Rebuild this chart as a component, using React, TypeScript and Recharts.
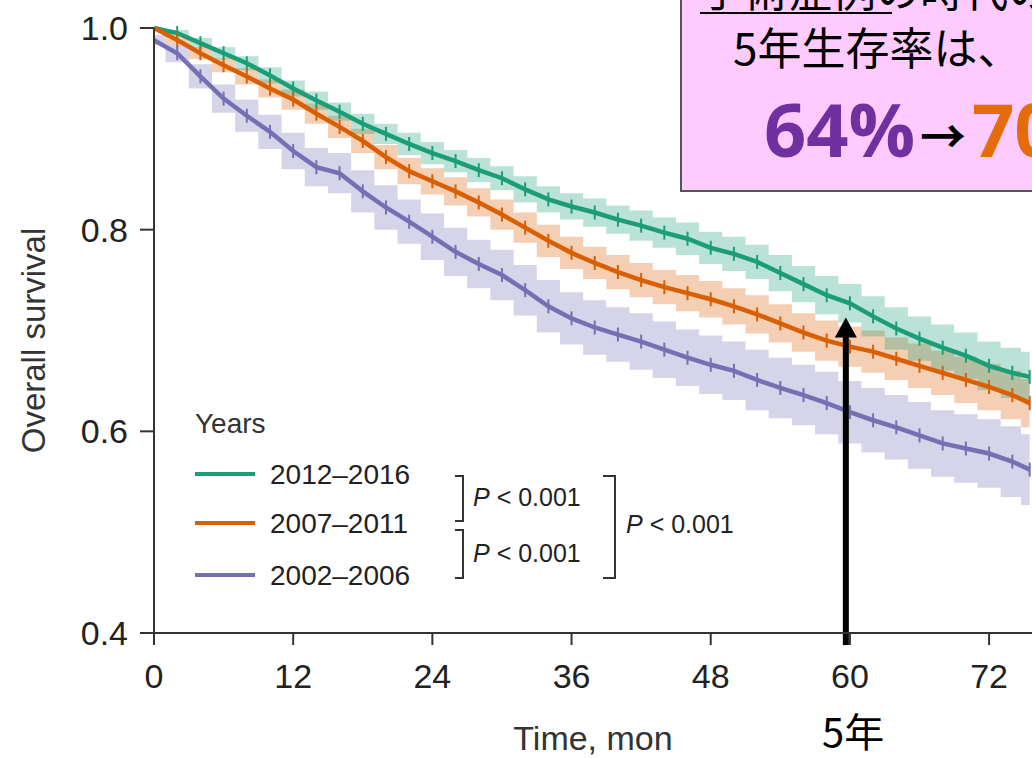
import React from "react";
import {
  ComposedChart,
  Line,
  Area,
  XAxis,
  YAxis,
  Legend,
  ReferenceLine,
} from "recharts";

// time points (months)
const months = [
  0, 2, 4, 6, 8, 10, 12, 14, 16, 18, 20, 22, 24, 26, 28, 30, 32, 34, 36, 38,
  40, 42, 44, 46, 48, 50, 52, 54, 56, 58, 60, 62, 64, 66, 68, 70, 72, 74, 75.5,
];

// survival estimates
const surv2012 = [
  1.0, 0.995, 0.985, 0.975, 0.965, 0.953, 0.94, 0.928, 0.917, 0.905, 0.895,
  0.885, 0.876, 0.868, 0.859, 0.851, 0.84, 0.83, 0.823, 0.817, 0.81, 0.804,
  0.797, 0.791, 0.782, 0.776, 0.768, 0.757, 0.746, 0.735, 0.727, 0.714, 0.702,
  0.692, 0.683, 0.675, 0.665, 0.658, 0.654,
];
const surv2007 = [
  1.0, 0.988, 0.975, 0.963, 0.952, 0.94, 0.929, 0.915, 0.902, 0.888, 0.872,
  0.858, 0.848, 0.838, 0.827, 0.815, 0.802, 0.789, 0.777, 0.767, 0.758, 0.75,
  0.743, 0.737, 0.731, 0.724, 0.716, 0.707, 0.698, 0.69, 0.684, 0.679, 0.672,
  0.665, 0.658, 0.651, 0.644, 0.636, 0.628,
];
const surv2002 = [
  0.988, 0.975, 0.952, 0.93, 0.913, 0.897, 0.878, 0.862, 0.856, 0.838, 0.822,
  0.808, 0.793, 0.778, 0.766, 0.755, 0.74, 0.724, 0.712, 0.703, 0.696, 0.689,
  0.681, 0.673, 0.666, 0.66, 0.651, 0.643, 0.636, 0.628, 0.619, 0.611, 0.604,
  0.596, 0.588, 0.583, 0.578, 0.57, 0.562,
];

// half widths of the confidence bands
const ci2012 = [
  0, 0.003, 0.005, 0.006, 0.007, 0.008, 0.008, 0.009, 0.009, 0.01, 0.01, 0.011,
  0.011, 0.011, 0.012, 0.012, 0.013, 0.013, 0.013, 0.014, 0.014, 0.015, 0.015,
  0.016, 0.016, 0.017, 0.017, 0.018, 0.018, 0.019, 0.019, 0.02, 0.021, 0.022,
  0.023, 0.023, 0.024, 0.025, 0.025,
];
const ci2007 = [
  0, 0.004, 0.006, 0.007, 0.008, 0.009, 0.01, 0.01, 0.011, 0.012, 0.012, 0.013,
  0.013, 0.014, 0.014, 0.015, 0.015, 0.016, 0.016, 0.016, 0.017, 0.017, 0.017,
  0.018, 0.018, 0.018, 0.019, 0.019, 0.019, 0.02, 0.02, 0.021, 0.021, 0.022,
  0.022, 0.023, 0.023, 0.024, 0.024,
];
const ci2002 = [
  0.005, 0.009, 0.012, 0.014, 0.016, 0.017, 0.018, 0.019, 0.02, 0.021, 0.022,
  0.022, 0.023, 0.024, 0.024, 0.025, 0.025, 0.026, 0.026, 0.027, 0.027, 0.028,
  0.028, 0.028, 0.029, 0.029, 0.03, 0.03, 0.03, 0.031, 0.031, 0.032, 0.032,
  0.033, 0.033, 0.034, 0.034, 0.035, 0.035,
];

const seriesNames = ["2012–2016", "2007–2011", "2002–2006"];
const xTicks = [0, 12, 24, 36, 48, 60, 72];
const yTicks = [0.4, 0.6, 0.8, 1.0];

const GREEN = "#1b9e77";
const ORANGE = "#d95f02";
const PURPLE = "#7570b3";

const data = months.map((t, i) => ({
  t,
  g: surv2012[i],
  o: surv2007[i],
  p: surv2002[i],
  gBand: [surv2012[i] - ci2012[i], surv2012[i] + ci2012[i]],
  oBand: [surv2007[i] - ci2007[i], surv2007[i] + ci2007[i]],
  pBand: [surv2002[i] - ci2002[i], surv2002[i] + ci2002[i]],
}));

const tickFont = "'Liberation Sans', Arial, sans-serif";

// censoring marks
const censor = (color: string) => (props: any) => {
  const { cx, cy, index } = props;
  if (index === 0 || cx == null || cy == null) return <g key={`c-${index}`} />;
  return (
    <line
      key={`c-${index}`}
      x1={cx}
      x2={cx}
      y1={cy - 7}
      y2={cy + 7}
      stroke={color}
      strokeWidth={2}
    />
  );
};

const LegendBox = (props: any) => {
  const all = (props.payload || []).filter((p: any) => p.type !== "none");
  const items = seriesNames
    .map((n) => all.find((p: any) => p.value === n))
    .filter(Boolean);
  const rows = [79, 128, 180];
  return (
    <svg width={600} height={200} style={{ overflow: "visible" }}>
      <text x={15} y={28} fontSize={28} fill="#333" dominantBaseline="central" fontFamily={tickFont}>
        Years
      </text>
      {items.map((it: any, i: number) => (
        <g key={it.value}>
          <line x1={15} x2={75} y1={rows[i]} y2={rows[i]} stroke={it.color} strokeWidth={4} />
          <text x={90} y={rows[i]} fontSize={28} fill="#222" dominantBaseline="central" fontFamily={tickFont}>
            {it.value}
          </text>
        </g>
      ))}
      <g stroke="#333" strokeWidth={2} fill="none">
        <polyline points="275,81 283,81 283,126 275,126" />
        <polyline points="275,135 283,135 283,183 275,183" />
        <polyline points="423,81 435,81 435,183 423,183" />
      </g>
      <g fontSize={25} fill="#222" fontFamily={tickFont} dominantBaseline="central">
        <text x={293} y={102}>
          <tspan fontStyle="italic">P</tspan> {"<"} 0.001
        </text>
        <text x={293} y={158}>
          <tspan fontStyle="italic">P</tspan> {"<"} 0.001
        </text>
        <text x={446} y={129}>
          <tspan fontStyle="italic">P</tspan> {"<"} 0.001
        </text>
      </g>
    </svg>
  );
};

const Arrow = (props: any) => {
  const { x1, y1, y2 } = props;
  const top = Math.min(y1, y2);
  const bottom = Math.max(y1, y2);
  return (
    <g>
      <rect x={x1 - 3} y={top + 18} width={6} height={bottom - top - 18} fill="#000" />
      <polygon points={`${x1},${top} ${x1 - 11},${top + 20} ${x1 + 11},${top + 20}`} fill="#000" />
    </g>
  );
};

const YLabel = (props: any) => {
  const vb = props.viewBox || { x: 0, y: 28, height: 605 };
  const cx = vb.x + 33;
  const cy = vb.y + vb.height / 2 + 10;
  return (
    <text
      x={cx}
      y={cy}
      transform={`rotate(-90 ${cx} ${cy})`}
      textAnchor="middle"
      dominantBaseline="central"
      fontSize={33}
      fill="#333"
      fontFamily={tickFont}
    >
      Overall survival
    </text>
  );
};

const App: React.FC = () => {
  return (
    <div
      style={{
        position: "absolute",
        left: 0,
        top: 0,
        width: 1032,
        height: 758,
        overflow: "hidden",
        background: "#fff",
      }}
    >
      <ComposedChart
        width={1032}
        height={758}
        data={data}
        margin={{ top: 28, right: 0, left: 0, bottom: 0 }}
      >
        <XAxis
          dataKey="t"
          type="number"
          domain={[0, 75.7]}
          ticks={xTicks}
          allowDataOverflow
          height={125}
          stroke="#333"
          strokeWidth={2}
          tickSize={12}
          tickMargin={19}
          tick={{ fontSize: 34, fill: "#222", fontFamily: tickFont }}
          label={{
            value: "Time, mon",
            position: "insideBottom",
            offset: 8,
            fontSize: 34,
            fill: "#333",
            fontFamily: tickFont,
          }}
        />
        <YAxis
          type="number"
          domain={[0.4, 1.0]}
          ticks={yTicks}
          width={154}
          stroke="#333"
          strokeWidth={2}
          tickSize={14}
          tickMargin={12}
          tickFormatter={(v: number) => v.toFixed(1)}
          tick={{ fontSize: 34, fill: "#222", fontFamily: tickFont }}
          label={YLabel}
        />
        <Area dataKey="pBand" type="step" stroke="none" fill={PURPLE} fillOpacity={0.3} isAnimationActive={false} legendType="none" />
        <Area dataKey="oBand" type="step" stroke="none" fill={ORANGE} fillOpacity={0.3} isAnimationActive={false} legendType="none" />
        <Area dataKey="gBand" type="step" stroke="none" fill={GREEN} fillOpacity={0.3} isAnimationActive={false} legendType="none" />
        <Line dataKey="g" name={seriesNames[0]} type="linear" stroke={GREEN} strokeWidth={4.5} dot={censor(GREEN)} activeDot={false} isAnimationActive={false} />
        <Line dataKey="o" name={seriesNames[1]} type="linear" stroke={ORANGE} strokeWidth={4.5} dot={censor(ORANGE)} activeDot={false} isAnimationActive={false} />
        <Line dataKey="p" name={seriesNames[2]} type="linear" stroke={PURPLE} strokeWidth={4.5} dot={censor(PURPLE)} activeDot={false} isAnimationActive={false} />
        <ReferenceLine
          segment={[
            { x: 59.65, y: 0.388 },
            { x: 59.65, y: 0.713 },
          ]}
          ifOverflow="visible"
          shape={Arrow}
        />
        <Legend
          layout="vertical"
          align="center"
          verticalAlign="middle"
          content={LegendBox}
          wrapperStyle={{ position: "absolute", left: 180, top: 395, width: 600, height: 200 }}
        />
      </ComposedChart>

      {/* annotation box */}
      <div
        style={{
          position: "absolute",
          left: 680,
          top: -60,
          width: 420,
          height: 248,
          background: "#fdcbfd",
          border: "2px solid #555",
        }}
      />
      <div
        style={{
          position: "absolute",
          left: 700,
          top: -34,
          fontSize: 44,
          lineHeight: "44px",
          fontFamily: "'Noto Sans CJK JP', sans-serif",
          color: "#000",
          whiteSpace: "nowrap",
        }}
      >
        手術症例の時代の
      </div>
      <div style={{ position: "absolute", left: 700, top: 12, width: 192, height: 2, background: "#000" }} />
      <div
        style={{
          position: "absolute",
          left: 733,
          top: 24,
          fontSize: 44,
          lineHeight: "44px",
          fontFamily: "'Noto Sans CJK JP', sans-serif",
          color: "#000",
          whiteSpace: "nowrap",
        }}
      >
        5年生存率は、
      </div>
      <div
        style={{
          position: "absolute",
          left: 764,
          top: 92,
          fontSize: 74,
          lineHeight: "74px",
          fontWeight: 700,
          fontFamily: "'Open Sans', sans-serif",
          color: "#7030a0",
          whiteSpace: "nowrap",
        }}
      >
        64%
      </div>
      <div
        style={{
          position: "absolute",
          left: 920,
          top: 110,
          fontSize: 46,
          lineHeight: "46px",
          fontWeight: 700,
          fontFamily: "'Noto Sans CJK JP', sans-serif",
          color: "#000",
        }}
      >
        →
      </div>
      <div
        style={{
          position: "absolute",
          left: 972,
          top: 92,
          fontSize: 74,
          lineHeight: "74px",
          fontWeight: 700,
          fontFamily: "'Open Sans', sans-serif",
          color: "#e46c0a",
          whiteSpace: "nowrap",
        }}
      >
        70%
      </div>

      <div
        style={{
          position: "absolute",
          left: 822,
          top: 708,
          fontSize: 40,
          lineHeight: "44px",
          fontFamily: "'Noto Sans CJK JP', sans-serif",
          color: "#000",
        }}
      >
        5年
      </div>
    </div>
  );
};

export default App;
